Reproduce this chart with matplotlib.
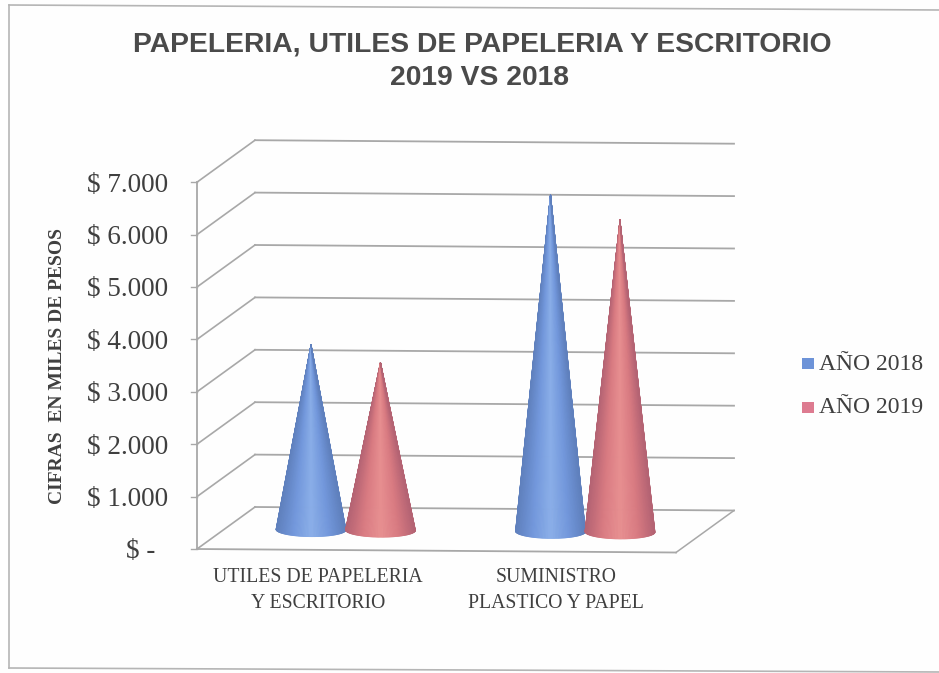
import matplotlib
matplotlib.use("Agg")
import matplotlib.pyplot as plt
import numpy as np
from matplotlib.collections import PolyCollection
from matplotlib.colors import LinearSegmentedColormap
from matplotlib.lines import Line2D
from matplotlib.patches import Rectangle
from matplotlib.transforms import Affine2D

# Chart content
title_lines = ["PAPELERIA, UTILES DE PAPELERIA Y ESCRITORIO", "2019 VS 2018"]
categories = ["UTILES DE PAPELERIA\nY ESCRITORIO", "SUMINISTRO\nPLASTICO Y PAPEL"]
series_names = ["AÑO 2018", "AÑO 2019"]
values_2018 = [3530, 6430]
values_2019 = [3200, 5950]
tick_values = [0, 1000, 2000, 3000, 4000, 5000, 6000, 7000]
tick_labels = ["$ -", "$ 1.000", "$ 2.000", "$ 3.000", "$ 4.000", "$ 5.000", "$ 6.000", "$ 7.000"]
y_title = "CIFRAS  EN MILES DE PESOS"

W, H = 939, 673
fig = plt.figure(figsize=(W / 100, H / 100), dpi=100, facecolor="#fefefe")

# Axes lie on the plane through the middle of the floor depth.
# x: 0..2 category slots, y: pesos.
PX_PER_UNIT_Y = 52.4 / 1000
X0, X1 = 226.0, 705.0
Y0 = 529.0
ax = fig.add_axes([X0 / W, (H - Y0) / H, (X1 - X0) / W, 7000 * PX_PER_UNIT_Y / H])
ax.set_xlim(0, 2)
ax.set_ylim(0, 7000)
ax.axis("off")

# The page was scanned slightly rotated, so everything on the plot drops to the right.
tilt = Affine2D().translate(-X0, 0).skew(0, np.arctan(-3.5 / (X1 - X0))).translate(X0, 0)
base = ax.transData + tilt
back = base + Affine2D().translate(29, 22)
front = base + Affine2D().translate(-29, -20)

GRID = "#a8a8a8"
for v, label in zip(tick_values, tick_labels):
    ax.plot([0, 2], [v, v], transform=back, color=GRID, lw=1.3, clip_on=False, zorder=1)
    # Side wall rung from the value axis to the back wall
    p_front = front.transform((0, v))
    p_back = back.transform((0, v))
    fig.add_artist(Line2D([p_front[0] / W, p_back[0] / W], [p_front[1] / H, p_back[1] / H],
                          color=GRID, lw=1.2, zorder=1))
    # Tick mark on the value axis
    fig.add_artist(Line2D([(p_front[0] - 6) / W, p_front[0] / W], [p_front[1] / H] * 2,
                          color=GRID, lw=1.0, zorder=1))
    # The accounting format leaves a gap to the right of the zero label
    shift = -42 if v == 0 else -29
    ax.annotate(label, xy=p_front, xycoords="figure pixels",
                xytext=(shift, -3), textcoords="offset pixels", ha="right", va="center",
                family="Liberation Serif", fontsize=19.5, color="#3f3f3f")

# Value axis, front edge of the floor and right edge of the floor
ax.plot([0, 0], [0, 7000], transform=front, color=GRID, lw=1.3, clip_on=False, zorder=1)
ax.plot([0, 2], [0, 0], transform=front, color=GRID, lw=1.3, clip_on=False, zorder=1)
pf, pb = front.transform((2, 0)), back.transform((2, 0))
fig.add_artist(Line2D([pf[0] / W, pb[0] / W], [pf[1] / H, pb[1] / H], color=GRID, lw=1.1, zorder=1))

blue_map = LinearSegmentedColormap.from_list("b", ["#5f80bd", "#7398dc", "#8aaee8", "#7398dc", "#5f80bd"])
red_map = LinearSegmentedColormap.from_list("r", ["#b46373", "#d97b82", "#e78f90", "#d97b82", "#b46373"])


def draw_cone(xc, height, cmap, z):
    """Fan of thin triangles from the apex round the front of the elliptical base."""
    half_width = 35.0 * 2 / (X1 - X0)
    half_depth = 7.0 / PX_PER_UNIT_Y
    t = np.linspace(np.pi, 2 * np.pi, 90)
    bx = xc + half_width * np.cos(t)
    by = half_depth * np.sin(t)
    polys = [[(xc, height), (bx[i], by[i]), (bx[i + 1], by[i + 1])] for i in range(len(t) - 1)]
    colors = cmap(0.5 + 0.5 * np.cos(t[:-1]))
    pc = PolyCollection(polys, facecolors=colors, edgecolors=colors, linewidths=0.6,
                        transform=base, zorder=z, clip_on=False)
    ax.add_collection(pc)


offsets = [-0.145, 0.145]
for i in range(len(categories)):
    xc = i + 0.5
    draw_cone(xc + offsets[0], values_2018[i], blue_map, 3)
    draw_cone(xc + offsets[1], values_2019[i], red_map, 4)

# Category labels
label_x = [318, 556]
for x, label in zip(label_x, categories):
    fig.text(x / W, 1 - 591 / H, label, ha="center", va="center", family="Liberation Serif",
             fontsize=14.2, color="#3f3f3f", linespacing=1.5)

# Titles
fig.text(482 / W, 1 - 45 / H, title_lines[0], ha="center", va="center", family="Liberation Sans",
         fontweight="bold", fontsize=20.3, color="#4a4a4a")
fig.text(480 / W, 1 - 78 / H, title_lines[1], ha="center", va="center", family="Liberation Sans",
         fontweight="bold", fontsize=20.3, color="#4a4a4a")
fig.text(58 / W, 1 - 366 / H, y_title, rotation=90, ha="center", va="center",
         family="Liberation Serif", fontweight="bold", fontsize=14, color="#3f3f3f")

# Legend
legend_colors = ["#6d93d8", "#dd7b90"]
for name, col, y in zip(series_names, legend_colors, [364, 408]):
    fig.add_artist(Rectangle((802 / W, 1 - (y + 5) / H), 12 / W, 11 / H, transform=fig.transFigure,
                             facecolor=col, edgecolor="none"))
    fig.text(819 / W, 1 - y / H, name, ha="left", va="center", family="Liberation Serif",
             fontsize=17, color="#3f3f3f")

# Chart border: top, left and bottom edges
for xs, ys in [([9, 939], [5, 10]), ([9, 9], [5, 668]), ([9, 939], [668, 672])]:
    fig.add_artist(Line2D(np.array(xs) / W, 1 - np.array(ys) / H, color="#b5b5b5", lw=1.2))

fig.savefig("out.png", dpi=100, facecolor=fig.get_facecolor())
